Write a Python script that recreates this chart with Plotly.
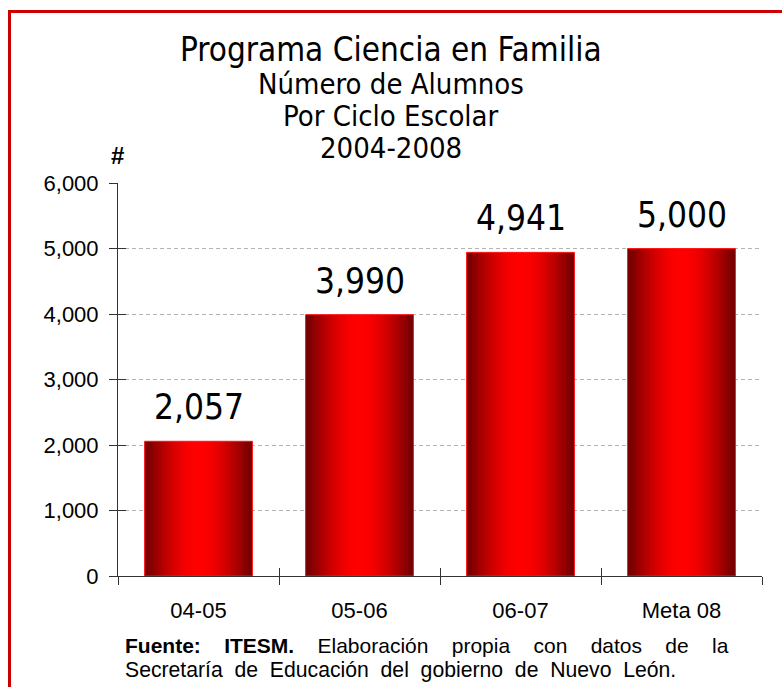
import math
import plotly.graph_objects as go

# datos
ciclos = ['04-05', '05-06', '06-07', 'Meta 08']
alumnos = [2057, 3990, 4941, 5000]
etiquetas = ['2,057', '3,990', '4,941', '5,000']
y_ticks = [0, 1000, 2000, 3000, 4000, 5000, 6000]

titulo = ['Programa Ciencia en Familia', 'Número de Alumnos', 'Por Ciclo Escolar', '2004-2008']
nbsp = '\u00a0' * 4
fuente_1 = ('<b>Fuente:' + nbsp + 'ITESM.</b>' + nbsp + 'Elaboración' + nbsp + 'propia' + nbsp
            + 'con' + nbsp + 'datos' + nbsp + 'de' + nbsp + 'la')
fuente_2 = '\u00a0 '.join('Secretaría de Educación del gobierno de Nuevo León.'.split(' '))

W, H = 782, 687
L, R, T, B = 118, 20, 183, 111
NARROW = 'DejaVu Sans Condensed, Arial Narrow, sans-serif'
ARIAL = 'Liberation Sans, Arial, sans-serif'


def px(x):
    return (x - L) / (W - L - R)


def py(y):
    return (H - B - y) / (H - T - B)


def rojo(t):
    # oscuro en los bordes, rojo vivo al centro
    f = math.sin(math.pi * t) ** 1.1
    r = int(0x70 + (0xff - 0x70) * f)
    return f'rgb({r},0,0)'


fig = go.Figure()

ancho = 0.67
n = 40
paso = ancho / n
for i in range(n):
    off = -ancho / 2 + i * paso
    fig.add_trace(go.Bar(x=ciclos, y=alumnos, offset=off, width=min(paso * 1.6, ancho / 2 - off),
                         marker_color=rojo((i + 0.5) / n), marker_line_width=0,
                         showlegend=False, hoverinfo='skip'))
# contorno
fig.add_trace(go.Bar(x=ciclos, y=alumnos, offset=-ancho / 2, width=ancho,
                     marker_color='rgba(0,0,0,0)', marker_line_color='#ff1a1a',
                     marker_line_width=1, showlegend=False, hoverinfo='skip'))
# para las marcas interiores de los ejes
fig.add_trace(go.Scatter(x=ciclos, y=alumnos, xaxis='x2', yaxis='y2', mode='markers',
                         marker_opacity=0, showlegend=False, hoverinfo='skip'))

for c, v, t in zip(ciclos, alumnos, etiquetas):
    fig.add_annotation(x=c, y=v, text=t, showarrow=False, yanchor='bottom', yshift=12,
                       font=dict(family=NARROW, size=35, color='black'))

tam = [33, 29, 29, 29]
alto = [50, 84, 116, 148]
for txt, s, yy in zip(titulo, tam, alto):
    fig.add_annotation(xref='paper', yref='paper', x=px(391), y=py(yy), text=txt,
                       showarrow=False, xanchor='center', yanchor='middle',
                       font=dict(family=NARROW, size=s, color='black'))

fig.add_annotation(xref='paper', yref='paper', x=px(117), y=py(155), text='<b>#</b>',
                   showarrow=False, xanchor='center', yanchor='middle',
                   font=dict(family=ARIAL, size=24, color='black'))
fig.add_annotation(xref='paper', yref='paper', x=px(123), y=py(645), text=fuente_1,
                   showarrow=False, xanchor='left', yanchor='middle',
                   font=dict(family=ARIAL, size=21, color='black'))
fig.add_annotation(xref='paper', yref='paper', x=px(123), y=py(670), text=fuente_2,
                   showarrow=False, xanchor='left', yanchor='middle',
                   font=dict(family=ARIAL, size=21.2, color='black'))

# marco rojo
fig.add_shape(type='line', xref='paper', yref='paper', x0=px(9.5), x1=px(9.5),
              y0=py(700), y1=py(11.5), line=dict(color='#cc0000', width=3))
fig.add_shape(type='line', xref='paper', yref='paper', x0=px(8), x1=px(800),
              y0=py(11.5), y1=py(11.5), line=dict(color='#cc0000', width=3))

fig.update_layout(
    width=W, height=H, barmode='overlay',
    margin=dict(l=L, r=R, t=T, b=B),
    paper_bgcolor='white', plot_bgcolor='white',
    xaxis=dict(type='category', range=[-0.5, 3.5], tickson='boundaries', ticks='outside',
               ticklen=8, tickcolor='#333333', showline=True, linecolor='#333333',
               showgrid=False, ticklabelstandoff=15,
               tickfont=dict(family=ARIAL, size=22, color='black')),
    yaxis=dict(range=[0, 6000], tickvals=y_ticks, tickformat=',', ticks='outside',
               ticklen=8, tickcolor='#333333', showline=True, linecolor='#333333',
               gridcolor='#b4b4b4', griddash='4px,3px', zeroline=False, ticklabelstandoff=6,
               tickfont=dict(family=ARIAL, size=22, color='black')),
    xaxis2=dict(type='category', overlaying='x', anchor='y', side='bottom', range=[-0.5, 3.5],
                tickson='boundaries', ticks='inside', ticklen=8, tickcolor='#333333',
                showticklabels=False, showgrid=False, showline=False),
    yaxis2=dict(overlaying='y', anchor='x', side='left', range=[0, 6000], tickvals=y_ticks,
                ticks='inside', ticklen=8, tickcolor='#333333', showticklabels=False,
                showgrid=False, showline=False, zeroline=False),
)

fig.write_html('out.html', config={'displayModeBar': False},
               post_script="document.body.style.margin='0';")
